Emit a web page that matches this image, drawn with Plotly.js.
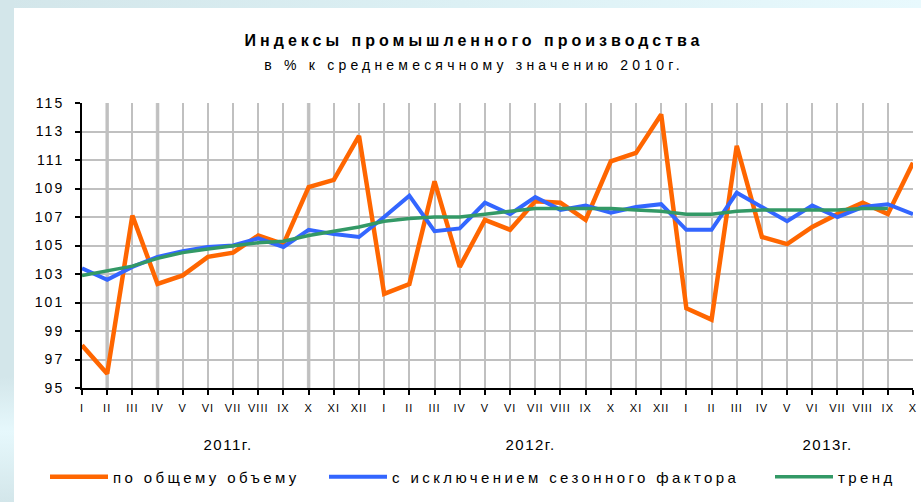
<!DOCTYPE html>
<html>
<head>
<meta charset="utf-8">
<script src="https://cdn.plot.ly/plotly-3.0.1.min.js"></script>
<style>
  html, body { margin: 0; padding: 0; }
  body { width: 921px; height: 502px; position: relative; overflow: hidden;
         background: linear-gradient(to right, #d3e6ea 0%, #dcf0f4 50%, #e8f9fd 100%); }
  #leftstrip { position: absolute; left: 0; top: 0; width: 14px; height: 502px;
         background: linear-gradient(to bottom, #d3e6ea 0%, #d3e6ea 75%, #e6f8fc 86%, #d3e6ea 100%); }
  #sheet { position: absolute; left: 14px; top: 8px; width: 907px; height: 494px; background: #ffffff; }
  #chart { position: absolute; left: 0; top: 0; width: 921px; height: 502px; }
  .legendtext, .legend2text, .legend3text { letter-spacing: 3.4px; }
  .gtitle { letter-spacing: 4px; }
  .ytick text { letter-spacing: 2px; }
  .xtick text { letter-spacing: 1px; }
</style>
</head>
<body>
<div id="leftstrip"></div>
<div id="sheet"></div>
<div id="chart"></div>
<script>
// Month tick labels (Jan 2011 .. Oct 2013)
const months = ["I","II","III","IV","V","VI","VII","VIII","IX","X","XI","XII",
                "I","II","III","IV","V","VI","VII","VIII","IX","X","XI","XII",
                "I","II","III","IV","V","VI","VII","VIII","IX","X"];
const years = ["2011г.", "2012г.", "2013г."];

// по общему объему
const totalVolume = [98.0, 96.0, 107.1, 102.3, 102.9, 104.2, 104.5, 105.7, 105.1, 109.1, 109.6, 112.7,
                     101.6, 102.3, 109.5, 103.5, 106.8, 106.1, 108.1, 108.0, 106.8, 110.9, 111.5, 114.2,
                     100.6, 99.8, 112.0, 105.6, 105.1, 106.3, 107.2, 108.0, 107.2, 110.8];
// с исключением сезонного фактора
const seasonAdj = [103.4, 102.6, 103.5, 104.2, 104.6, 104.9, 105.0, 105.5, 104.9, 106.1, 105.8, 105.6,
                   107.0, 108.5, 106.0, 106.2, 108.0, 107.2, 108.4, 107.5, 107.8, 107.3, 107.7, 107.9,
                   106.1, 106.1, 108.7, 107.7, 106.7, 107.8, 107.0, 107.7, 107.9, 107.2];
// тренд
const trend = [102.9, 103.2, 103.55, 104.1, 104.5, 104.75, 105.0, 105.2, 105.3, 105.7, 106.0, 106.3,
               106.7, 106.9, 107.0, 107.0, 107.2, 107.4, 107.6, 107.6, 107.6, 107.6, 107.5, 107.4,
               107.2, 107.2, 107.4, 107.5, 107.5, 107.5, 107.5, 107.6, 107.6, null];

const seriesNames = ["по общему объему", "с исключением сезонного фактора", "тренд"];

const xIdx = months.map((m, i) => i);
const FONT = "Liberation Sans, Arial, sans-serif";

const traces = [
  { x: xIdx, y: totalVolume, name: seriesNames[0], type: "scatter", mode: "lines",
    line: { color: "#ff6600", width: 4.5 }, legend: "legend" },
  { x: xIdx, y: seasonAdj, name: seriesNames[1], type: "scatter", mode: "lines",
    line: { color: "#3366ff", width: 4 }, legend: "legend2" },
  { x: xIdx, y: trend, name: seriesNames[2], type: "scatter", mode: "lines",
    line: { color: "#339966", width: 3.5 }, legend: "legend3" }
];

// plot area in page pixels: x 82..913, y 102.7..393.3
const W = 921, H = 502;
const L = 82, R = 913, T = 102.7, B = 393.3;
const pw = R - L, ph = B - T;
const px = v => (v - L) / pw;
const py = v => (B - v) / ph;

const legendCommon = { orientation: "h", xanchor: "left", yanchor: "middle",
  bgcolor: "rgba(0,0,0,0)", itemwidth: 58,
  font: { family: FONT, size: 15, color: "#000" } };

const layout = {
  width: W, height: H,
  margin: { l: L, r: W - R, t: T, b: H - B, pad: 0 },
  paper_bgcolor: "rgba(0,0,0,0)",
  plot_bgcolor: "#ffffff",
  title: { text: "Индексы промышленного производства",
    font: { family: FONT, size: 16, color: "#000", weight: "bold" },
    xref: "container", x: 474 / W, xanchor: "center",
    yref: "container", y: 1 - 40 / H, yanchor: "middle" },
  xaxis: {
    range: [0, months.length - 1],
    tickmode: "array", tickvals: xIdx, ticktext: months, tickangle: 0,
    showgrid: true, gridcolor: "#c0c0c0", gridwidth: 2,
    showline: true, linecolor: "#000", linewidth: 2,
    ticks: "outside", ticklen: 5, tickwidth: 2, tickcolor: "#000",
    tickfont: { family: FONT, size: 11, color: "#000" },
    ticklabelstandoff: 4, zeroline: false, fixedrange: true
  },
  yaxis: {
    range: [95, 115], dtick: 2, tick0: 95,
    showgrid: true, gridcolor: "#c0c0c0", gridwidth: 2,
    showline: true, linecolor: "#000", linewidth: 2,
    ticks: "outside", ticklen: 5, tickwidth: 2, tickcolor: "#000",
    tickfont: { family: FONT, size: 14, color: "#000" },
    ticklabelstandoff: 8, zeroline: false, fixedrange: true
  },
  shapes: [1, 3, 9].map(i => ({
    type: "line", xref: "x", yref: "paper", x0: i, x1: i, y0: 0, y1: 1,
    line: { color: "#c4c4c4", width: 3.5 }, layer: "below"
  })),
  annotations: [
    { text: "в % к среднемесячному значению 2010г.", xref: "paper", yref: "paper",
      x: px(474), y: py(64), xanchor: "center", yanchor: "middle", showarrow: false,
      font: { family: FONT, size: 14, color: "#000" } }
  ].concat(years.map((t, k) => ({
      text: t, xref: "x", yref: "paper", x: [5.8, 17.8, 29.6][k], y: py(451),
      xanchor: "center", yanchor: "middle", showarrow: false,
      font: { family: FONT, size: 15, color: "#000" } }))),
  legend: Object.assign({}, legendCommon, { x: px(45), y: py(484) }),
  legend2: Object.assign({}, legendCommon, { x: px(324), y: py(484) }),
  legend3: Object.assign({}, legendCommon, { x: px(770), y: py(484) }),
  showlegend: true
};

Plotly.newPlot("chart", traces, layout, { staticPlot: true, displayModeBar: false }).then(() => {
  document.querySelectorAll("#chart g.annotation").forEach((g, i) => {
    g.querySelectorAll("text").forEach(t => { t.style.letterSpacing = i === 0 ? "4.2px" : "1.5px"; });
  });
});
</script>
</body>
</html>
